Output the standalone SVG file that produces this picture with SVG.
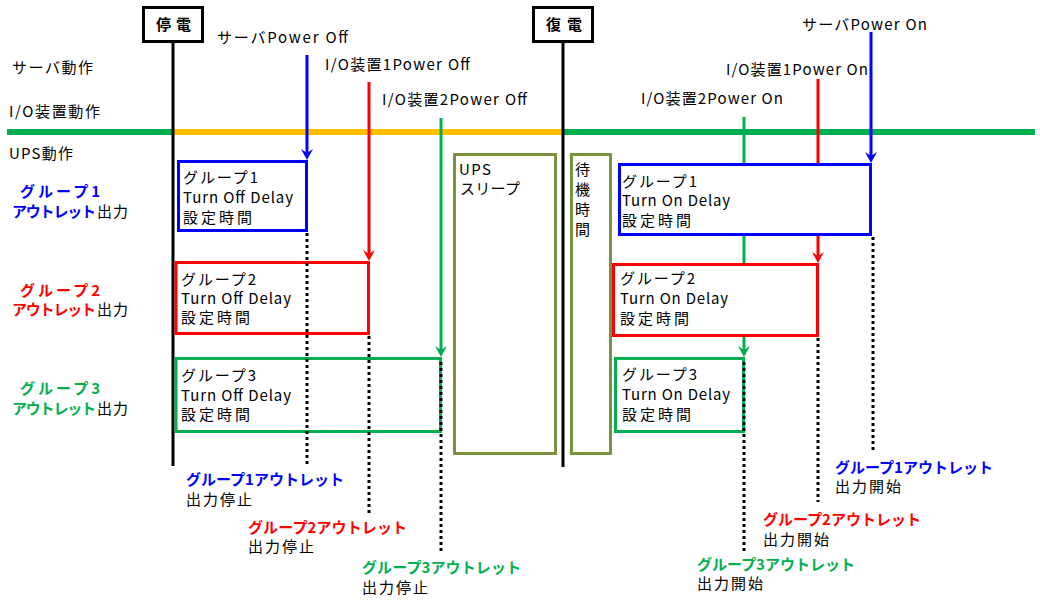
<svg xmlns="http://www.w3.org/2000/svg" width="1040" height="600" viewBox="0 0 1040 600">
<style>
text{font-family:"Noto Sans CJK JP","Noto Sans",sans-serif;font-size:15px;fill:#000}
.b{font-weight:bold}
.blue{fill:#0000FF}.red{fill:#FF0000}.green{fill:#00B050}
.box{fill:#fff;stroke-width:3}
.sb{stroke:#0000FF}.sr{stroke:#FF0000}.sg{stroke:#00B050}
.olive{fill:#fff;stroke:#77933C;stroke-width:3}
.vl{stroke-width:3;fill:none}
.dot{stroke:#000;stroke-width:3;stroke-dasharray:3 3;fill:none}
.blk{stroke:#000;stroke-width:3;fill:none}
</style>
<defs>
<path id="ah" d="M0,0 L-6,-11 L0,-7 L6,-11 Z"/>
</defs>
<rect width="1040" height="600" fill="#fff"/>

<g id="row-labels">
<text x="12" y="73" textLength="81">サーバ動作</text>
<text x="9" y="117" textLength="91">I/O装置動作</text>
<text x="9" y="159" textLength="64">UPS動作</text>
<text class="b blue" x="20" y="197" textLength="80">グループ1</text>
<text y="217"><tspan class="b blue" x="12" textLength="84">アウトレット</tspan><tspan x="97" textLength="31">出力</tspan></text>
<text class="b red" x="20" y="296" textLength="80">グループ2</text>
<text y="315"><tspan class="b red" x="12" textLength="84">アウトレット</tspan><tspan x="97" textLength="31">出力</tspan></text>
<text class="b green" x="20" y="394" textLength="80">グループ3</text>
<text y="414"><tspan class="b green" x="12" textLength="84">アウトレット</tspan><tspan x="97" textLength="31">出力</tspan></text>
</g>

<g id="timeline">
<line x1="7" y1="132" x2="173" y2="132" stroke="#00B050" stroke-width="6"/>
<line x1="173" y1="132" x2="563" y2="132" stroke="#FFC000" stroke-width="6"/>
<line x1="563" y1="132" x2="1035" y2="132" stroke="#00B050" stroke-width="6"/>
</g>

<g id="connectors">
<line class="blk" x1="173" y1="42" x2="173" y2="466"/>
<line class="blk" x1="563" y1="42" x2="563" y2="467"/>
<line class="vl sb" x1="307" y1="55" x2="307" y2="156"/>
<use href="#ah" x="307" y="160" fill="#0000FF"/>
<line class="vl sr" x1="369" y1="82" x2="369" y2="257"/>
<use href="#ah" x="369" y="261" fill="#FF0000"/>
<line class="vl sg" x1="441" y1="118" x2="441" y2="353"/>
<use href="#ah" x="441" y="357" fill="#00B050"/>
<line class="vl sg" x1="744" y1="117" x2="744" y2="353"/>
<use href="#ah" x="744" y="357" fill="#00B050"/>
<line class="vl sr" x1="818" y1="79" x2="818" y2="259"/>
<use href="#ah" x="818" y="263" fill="#FF0000"/>
<line class="vl sb" x1="871" y1="32" x2="871" y2="159"/>
<use href="#ah" x="871" y="163" fill="#0000FF"/>
</g>

<g id="teiden">
<rect x="143.5" y="7.5" width="59" height="34" fill="#fff" stroke="#000" stroke-width="3"/>
<text class="b" x="156" y="30" font-size="16" textLength="35">停電</text>
</g>
<g id="fukuden">
<rect x="533.5" y="7.5" width="59" height="34" fill="#fff" stroke="#000" stroke-width="3"/>
<text class="b" x="546" y="30" font-size="16" textLength="36">復電</text>
</g>

<g id="event-labels">
<text x="217" y="43" textLength="131">サーバPower Off</text>
<text x="325" y="70" textLength="145">I/O装置1Power Off</text>
<text x="382" y="105" textLength="145">I/O装置2Power Off</text>
<text x="802" y="30" textLength="125">サーバPower On</text>
<text x="726" y="75" textLength="142">I/O装置1Power On</text>
<text x="641" y="104" textLength="142">I/O装置2Power On</text>
</g>

<g id="off-group1">
<rect class="box sb" x="178.5" y="161.5" width="128" height="69"/>
<text x="183" y="183" textLength="75">グループ1</text>
<text x="183" y="203" textLength="110">Turn Off Delay</text>
<text x="183" y="223" textLength="69">設定時間</text>
</g>
<g id="off-group2">
<rect class="box sr" x="176" y="262.5" width="192.5" height="71"/>
<text x="181" y="285" textLength="75">グループ2</text>
<text x="181" y="304" textLength="110">Turn Off Delay</text>
<text x="181" y="323" textLength="69">設定時間</text>
</g>
<g id="off-group3">
<rect class="box sg" x="176" y="358.5" width="264.5" height="73"/>
<text x="181" y="381" textLength="75">グループ3</text>
<text x="181" y="401" textLength="110">Turn Off Delay</text>
<text x="181" y="420" textLength="69">設定時間</text>
</g>

<g id="ups-sleep">
<rect class="olive" x="454.5" y="154.5" width="101" height="299"/>
<text x="459" y="175" font-size="14" textLength="32">UPS</text>
<text x="460" y="194" font-size="14" textLength="60">スリープ</text>
</g>
<g id="standby">
<rect class="olive" x="571.5" y="154.5" width="39" height="299"/>
<text x="575" y="175">待</text>
<text x="575" y="195">機</text>
<text x="575" y="215">時</text>
<text x="575" y="235">間</text>
</g>

<g id="on-group1">
<rect class="box sb" x="619.5" y="164.5" width="251" height="70"/>
<text x="622" y="187" textLength="75">グループ1</text>
<text x="622" y="206" textLength="108">Turn On Delay</text>
<text x="622" y="226" textLength="69">設定時間</text>
</g>
<g id="on-group2">
<rect class="box sr" x="613.5" y="264.5" width="204" height="71"/>
<text x="620" y="284" textLength="75">グループ2</text>
<text x="620" y="304" textLength="108">Turn On Delay</text>
<text x="620" y="324" textLength="69">設定時間</text>
</g>
<g id="on-group3">
<rect class="box sg" x="615.5" y="358.5" width="128" height="73"/>
<text x="622" y="380" textLength="75">グループ3</text>
<text x="622" y="400" textLength="108">Turn On Delay</text>
<text x="622" y="420" textLength="69">設定時間</text>
</g>

<g id="dotted-guides">
<line class="dot" x1="307" y1="233" x2="307" y2="465"/>
<line class="dot" x1="369" y1="336" x2="369" y2="516"/>
<line class="dot" x1="441" y1="362" x2="441" y2="553"/>
<line class="dot" x1="744" y1="362" x2="744" y2="553"/>
<line class="dot" x1="818" y1="338" x2="818" y2="502"/>
<line class="dot" x1="873" y1="237" x2="873" y2="452"/>
</g>

<g id="stop-labels">
<text class="b blue" x="186" y="485" textLength="158">グループ1アウトレット</text>
<text x="186" y="505" textLength="66">出力停止</text>
<text class="b red" x="248" y="533" textLength="159">グループ2アウトレット</text>
<text x="248" y="552" textLength="66">出力停止</text>
<text class="b green" x="362" y="573" textLength="159">グループ3アウトレット</text>
<text x="362" y="593" textLength="66">出力停止</text>
</g>
<g id="start-labels">
<text class="b blue" x="835" y="473" textLength="158">グループ1アウトレット</text>
<text x="835" y="492" textLength="66">出力開始</text>
<text class="b red" x="763" y="525" textLength="158">グループ2アウトレット</text>
<text x="763" y="545" textLength="66">出力開始</text>
<text class="b green" x="697" y="570" textLength="158">グループ3アウトレット</text>
<text x="697" y="589" textLength="66">出力開始</text>
</g>
</svg>
